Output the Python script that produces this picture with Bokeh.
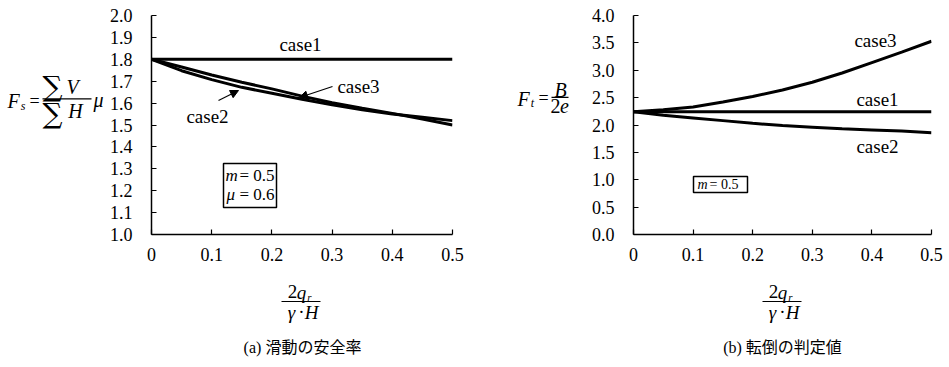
from bokeh.plotting import figure
from bokeh.layouts import row, column
from bokeh.models import Range1d, FixedTicker, PrintfTickFormatter, Label, Arrow, NormalHead, BoxAnnotation
from bokeh.core.properties import value
from bokeh.embed import file_html
from bokeh.resources import INLINE

# ---------------- data ----------------
x_vals = [0.0, 0.05, 0.1, 0.15, 0.2, 0.25, 0.3, 0.35, 0.4, 0.45, 0.5]

# (a) sliding safety factor
a_case1 = [1.8, 1.8, 1.8, 1.8, 1.8, 1.8, 1.8, 1.8, 1.8, 1.8, 1.8]
a_case2 = [1.8, 1.748, 1.707, 1.672, 1.645, 1.618, 1.592, 1.570, 1.550, 1.535, 1.520]
a_case3 = [1.8, 1.765, 1.728, 1.695, 1.665, 1.632, 1.602, 1.577, 1.553, 1.527, 1.500]

# (b) overturning value
b_case1 = [2.24, 2.24, 2.24, 2.24, 2.24, 2.24, 2.24, 2.24, 2.24, 2.24, 2.24]
b_case2 = [2.24, 2.18, 2.13, 2.08, 2.03, 1.99, 1.96, 1.93, 1.91, 1.89, 1.86]
b_case3 = [2.24, 2.28, 2.33, 2.42, 2.52, 2.64, 2.78, 2.95, 3.14, 3.33, 3.53]

x_ticks = [0, 0.1, 0.2, 0.3, 0.4, 0.5]
x_tick_labels = ["0", "0.1", "0.2", "0.3", "0.4", "0.5"]
a_y_ticks = [1.0, 1.1, 1.2, 1.3, 1.4, 1.5, 1.6, 1.7, 1.8, 1.9, 2.0]
b_y_ticks = [0.0, 0.5, 1.0, 1.5, 2.0, 2.5, 3.0, 3.5, 4.0]

captions = ["(a) 滑動の安全率", "(b) 転倒の判定値"]

SERIF = "'Liberation Serif', 'Times New Roman', Times, serif"
SUM_FONT = "DejaVu Serif"
CAP_FONT = "'Liberation Serif', 'Noto Sans CJK JP', serif"
TICK_PX = "18px"
TXT = 19
TOP_H = 265
BOT_H = 95


def make_fig(width, bl, br, yr, yticks):
    p = figure(width=width, height=TOP_H, x_range=Range1d(0, 0.5), y_range=Range1d(*yr),
               output_backend="svg", toolbar_location=None,
               min_border_left=bl, min_border_right=br, min_border_top=15,
               min_border_bottom=TOP_H - 234)
    p.outline_line_color = None
    p.grid.visible = False
    p.background_fill_color = "white"
    p.border_fill_color = "white"
    for ax in (p.xaxis[0], p.yaxis[0]):
        ax.axis_line_color = "black"
        ax.axis_line_width = 1.5
        ax.major_tick_line_color = "black"
        ax.major_tick_line_width = 1.2
        ax.major_tick_in = 5
        ax.major_tick_out = 0
        ax.minor_tick_line_color = None
        ax.major_label_text_font = SERIF
        ax.major_label_text_font_size = TICK_PX
        ax.major_label_text_color = "black"
        ax.major_label_text_font_style = "normal"
    p.xaxis.ticker = FixedTicker(ticks=x_ticks)
    p.xaxis.major_label_overrides = {t: l for t, l in zip(x_ticks, x_tick_labels)}
    p.xaxis.major_label_standoff = 13
    p.yaxis.ticker = FixedTicker(ticks=yticks)
    p.yaxis.formatter = PrintfTickFormatter(format="%.1f")
    p.yaxis.major_label_standoff = 19
    return p


def text_fig(x0, y0, w, h):
    # a plain drawing area whose data units are page pixels (y downwards)
    p = figure(width=w, height=h, x_range=Range1d(x0, x0 + w), y_range=Range1d(y0 + h, y0),
               output_backend="svg", toolbar_location=None, x_axis_type=None, y_axis_type=None,
               min_border=0)
    p.outline_line_color = None
    p.grid.visible = False
    p.background_fill_color = "white"
    p.border_fill_color = "white"
    return p


def txt(p, x, y, s, size=TXT, italic=False, align="center", font=SERIF):
    p.text(x=[x], y=[y], text=[s], text_font=value(font), text_font_size=f"{size}px",
           text_font_style="italic" if italic else "normal", text_align=align,
           text_baseline="middle", text_color="black")


def bar(p, x0, x1, y):
    p.segment(x0=[x0], y0=[y], x1=[x1], y1=[y], line_color="black", line_width=1.2)


class Frame:
    def __init__(self, x0, x1, y0, y1, xr, yr):
        self.x0, self.x1, self.y0, self.y1 = x0, x1, y0, y1
        self.xr, self.yr = xr, yr

    def d(self, px, py):
        x = self.xr[0] + (px - self.x0) / (self.x1 - self.x0) * (self.xr[1] - self.xr[0])
        y = self.yr[1] - (py - self.y0) / (self.y1 - self.y0) * (self.yr[1] - self.yr[0])
        return x, y


def lab(p, fr, px, py, text, size=TXT, italic=False, align="center"):
    x, y = fr.d(px, py)
    p.add_layout(Label(x=x, y=y, text=text, text_font=SERIF, text_font_size=f"{size}px",
                       text_font_style="italic" if italic else "normal",
                       text_align=align, text_baseline="middle", text_color="black"))


def arrow(p, fr, px0, py0, px1, py1):
    x0, y0 = fr.d(px0, py0)
    x1, y1 = fr.d(px1, py1)
    p.add_layout(Arrow(x_start=x0, y_start=y0, x_end=x1, y_end=y1,
                       end=NormalHead(size=8, fill_color="black", line_color="black", line_width=1),
                       line_color="black", line_width=1.2))


def box(p, fr, px0, py0, px1, py1):
    x0, y0 = fr.d(px0, py0)
    x1, y1 = fr.d(px1, py1)
    p.add_layout(BoxAnnotation(left=x0, right=x1, top=y0, bottom=y1, fill_color=None,
                               fill_alpha=0, line_color="black", line_alpha=1.0, line_width=1.5))


def xlabel(p, cx):
    txt(p, cx - 9, 291, "2")
    txt(p, cx, 292, "q", italic=True)
    txt(p, cx + 8, 296, "r", size=11, italic=True)
    bar(p, cx - 20, cx + 19, 301)
    txt(p, cx - 10, 312, "γ", italic=True)
    txt(p, cx, 311, "·")
    txt(p, cx + 10, 312, "H", italic=True)


# ---------------- (a) ----------------
LA_W = 105
p1 = make_fig(477 - LA_W, 151 - LA_W, 477 - 452, (1.0, 2.0), a_y_ticks)
f1 = Frame(151, 452, 15, 234, (0, 0.5), (1.0, 2.0))
for ys in (a_case1, a_case2, a_case3):
    p1.line(x_vals, ys, line_color="black", line_width=3)

lab(p1, f1, 300, 44, "case1")
lab(p1, f1, 358, 86, "case3")
lab(p1, f1, 207, 116, "case2")
arrow(p1, f1, 332, 86, 299, 97)
arrow(p1, f1, 218, 100, 238, 90)

box(p1, f1, 223, 163, 276, 207)
lab(p1, f1, 225, 175, "m", size=17, italic=True, align="left")
lab(p1, f1, 239, 175, "= 0.5", size=17, align="left")
lab(p1, f1, 226, 194, "μ", size=17, italic=True, align="left")
lab(p1, f1, 239, 194, "= 0.6", size=17, align="left")

# y formula  F_s = ΣV / ΣH μ
ya = text_fig(0, 0, LA_W, TOP_H)
txt(ya, 13, 104, "F", size=20, italic=True)
txt(ya, 22.5, 109, "s", size=12, italic=True)
txt(ya, 34, 103, "=", size=18)
txt(ya, 52, 86, "∑", size=28, font=SUM_FONT)
txt(ya, 72, 87, "V", size=20, italic=True)
bar(ya, 42, 91, 101)
txt(ya, 52, 119, "∑", size=28, font=SUM_FONT)
txt(ya, 75, 116, "H", size=20, italic=True)
txt(ya, 98, 102, "μ", size=20, italic=True)

xa = text_fig(0, TOP_H, 477, BOT_H)
xlabel(xa, 301)
txt(xa, 302, 347, captions[0], size=16, font=CAP_FONT)

# ---------------- (b) ----------------
LB_W = 100
p2 = make_fig(944 - 477 - LB_W, 633 - 477 - LB_W, 944 - 931, (0.0, 4.0), b_y_ticks)
f2 = Frame(633, 931, 15, 234, (0, 0.5), (0.0, 4.0))
for ys in (b_case1, b_case2, b_case3):
    p2.line(x_vals, ys, line_color="black", line_width=3)

lab(p2, f2, 875, 40, "case3")
lab(p2, f2, 877, 99, "case1")
lab(p2, f2, 877, 146, "case2")

box(p2, f2, 693, 176, 747, 192)
lab(p2, f2, 697, 184, "m", size=14, italic=True, align="left")
lab(p2, f2, 709, 184, "= 0.5", size=14, align="left")

# y formula  F_t = B / 2e
yb = text_fig(477, 0, LB_W, TOP_H)
txt(yb, 523, 101, "F", size=20, italic=True)
txt(yb, 532, 106, "t", size=12, italic=True)
txt(yb, 543, 100, "=", size=18)
txt(yb, 560, 90, "B", size=20, italic=True)
bar(yb, 551, 568, 99)
txt(yb, 555, 110, "2", size=20)
txt(yb, 564, 110, "e", size=20, italic=True)

xb = text_fig(477, TOP_H, 944 - 477, BOT_H)
xlabel(xb, 782)
txt(xb, 782, 347, captions[1], size=16, font=CAP_FONT)

layout = row(column(row(ya, p1), xa), column(row(yb, p2), xb))
open("out.html", "w").write(file_html(layout, INLINE))
